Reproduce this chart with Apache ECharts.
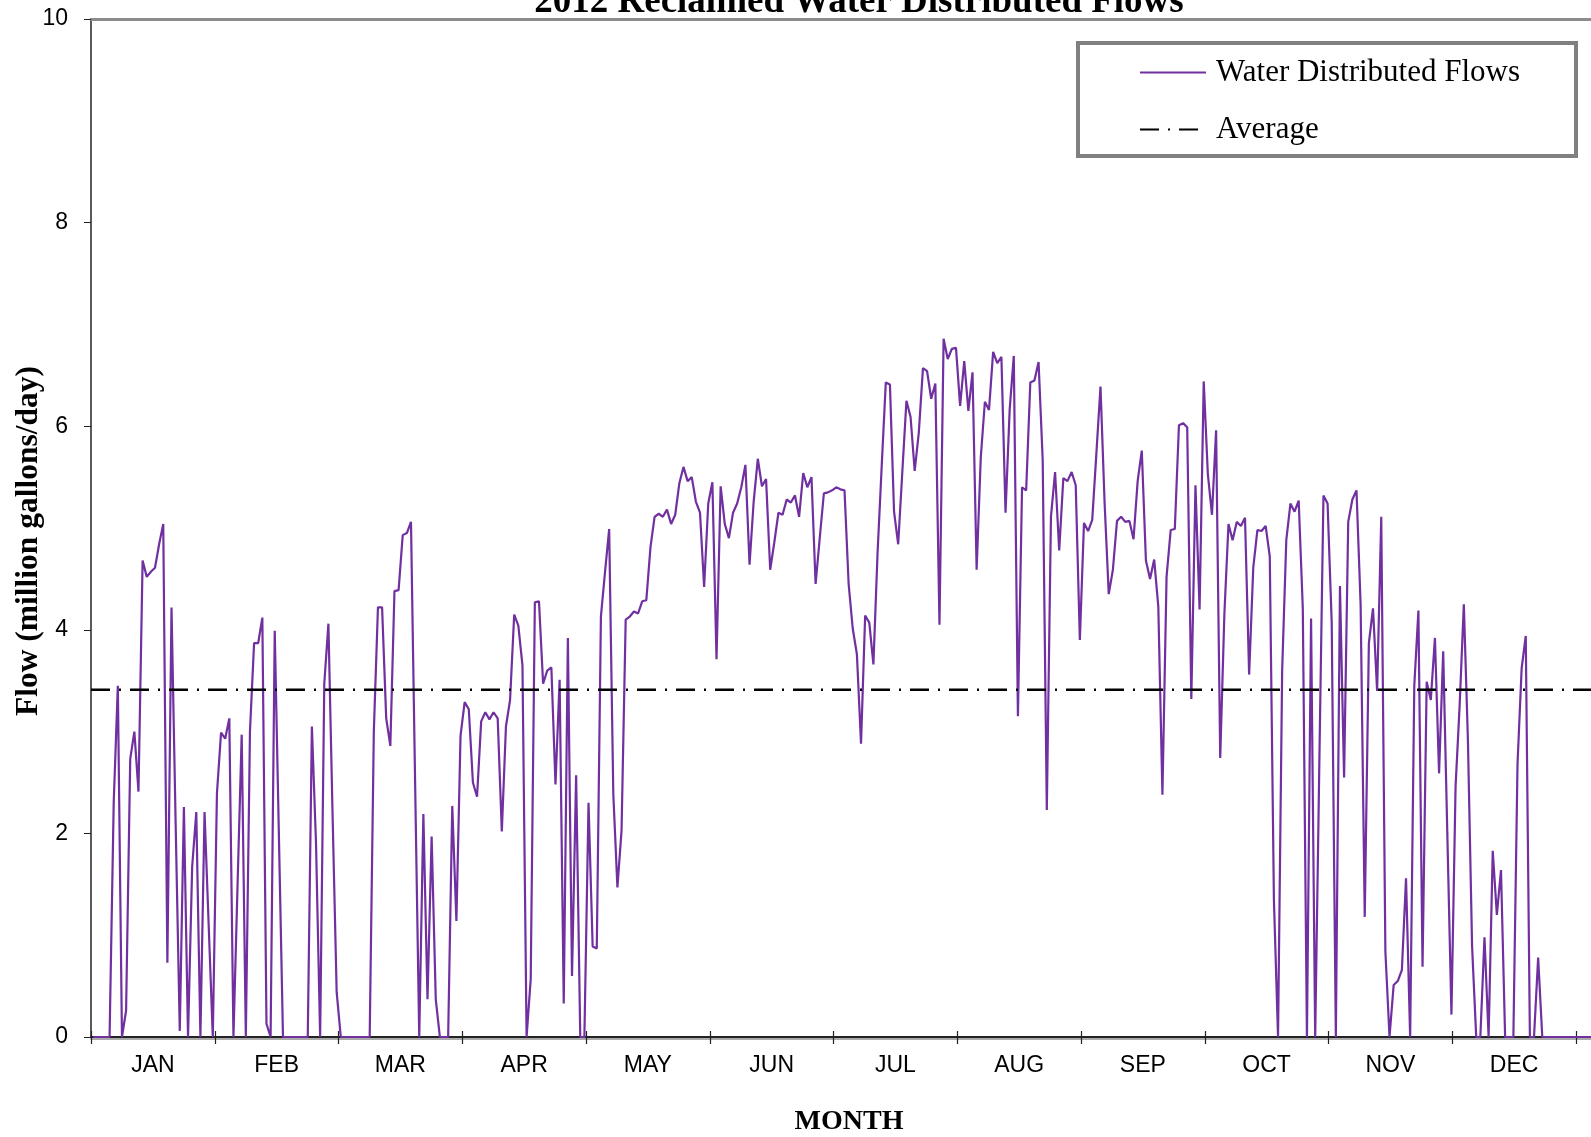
<!DOCTYPE html>
<html>
<head>
<meta charset="utf-8">
<title>2012 Reclaimed Water Distributed Flows</title>
<script src="https://cdn.jsdelivr.net/npm/echarts@6/dist/echarts.min.js"></script>
<style>
  html, body { margin: 0; padding: 0; background: #fff; }
  #chart { width: 1591px; height: 1137px; }
</style>
</head>
<body>
<div id="chart"></div>
<script>
// daily flows for 2012 (million gallons/day), day 0 = Jan 1
const flows = [
  0, 0, 0, 0, 0, 2.3, 3.45, 0, 0.26, 2.73,
  3.0, 2.41, 4.68, 4.52, 4.57, 4.61, 4.84, 5.04, 0.73, 4.22,
  2.1, 0.06, 2.26, 0, 1.67, 2.21, 0, 2.21, 1.1, 0,
  2.39, 2.99, 2.93, 3.13, 0, 1.5, 2.97, 0, 3.0, 3.87,
  3.87, 4.12, 0.13, 0, 3.99, 2.0, 0, 0, 0, 0,
  0, 0, 0, 3.05, 1.9, 0, 3.47, 4.06, 2.2, 0.44,
  0, 0, 0, 0, 0, 0, 0, 0, 3.0, 4.22,
  4.22, 3.13, 2.86, 4.38, 4.39, 4.93, 4.95, 5.06, 2.5, 0,
  2.19, 0.37, 1.97, 0.37, 0, 0, 0, 2.27, 1.14, 2.96,
  3.29, 3.22, 2.50, 2.36, 3.10, 3.19, 3.12, 3.19, 3.13, 2.02,
  3.05, 3.31, 4.15, 4.04, 3.65, 0, 0.57, 4.27, 4.28, 3.47,
  3.60, 3.63, 2.48, 3.51, 0.33, 3.92, 0.60, 2.57, 0, 0,
  2.30, 0.89, 0.87, 4.13, 4.57, 4.99, 2.39, 1.47, 2.03, 4.10,
  4.13, 4.18, 4.16, 4.28, 4.29, 4.81, 5.11, 5.14, 5.11, 5.18,
  5.04, 5.13, 5.44, 5.60, 5.46, 5.50, 5.26, 5.15, 4.42, 5.24,
  5.45, 3.71, 5.41, 5.04, 4.90, 5.15, 5.24, 5.40, 5.62, 4.64,
  5.26, 5.68, 5.41, 5.48, 4.59, 4.86, 5.15, 5.13, 5.28, 5.25,
  5.32, 5.11, 5.54, 5.40, 5.50, 4.45, 4.90, 5.34, 5.35, 5.37,
  5.40, 5.38, 5.37, 4.45, 4.01, 3.76, 2.88, 4.14, 4.07, 3.66,
  4.75, 5.6, 6.43, 6.41, 5.16, 4.84, 5.55, 6.25, 6.09, 5.56,
  5.94, 6.57, 6.54, 6.27, 6.42, 4.05, 6.86, 6.66, 6.76, 6.77,
  6.20, 6.64, 6.15, 6.53, 4.59, 5.69, 6.24, 6.16, 6.73, 6.62,
  6.68, 5.15, 6.16, 6.69, 3.15, 5.40, 5.37, 6.43, 6.45, 6.63,
  5.67, 2.23, 5.11, 5.55, 4.78, 5.49, 5.46, 5.55, 5.42, 3.90,
  5.05, 4.97, 5.08, 5.73, 6.39, 5.24, 4.35, 4.59, 5.07, 5.11,
  5.06, 5.07, 4.89, 5.46, 5.76, 4.68, 4.50, 4.69, 4.23, 2.38,
  4.52, 4.98, 4.99, 6.01, 6.03, 5.99, 3.32, 5.42, 4.20, 6.44,
  5.53, 5.13, 5.96, 2.74, 4.15, 5.04, 4.88, 5.06, 5.02, 5.10,
  3.56, 4.61, 4.98, 4.97, 5.02, 4.72, 1.35, 0, 3.60, 4.88,
  5.24, 5.16, 5.27, 4.21, 0, 4.11, 0, 2.68, 5.32, 5.24,
  4.07, 0, 4.43, 2.55, 5.06, 5.28, 5.37, 4.25, 1.18, 3.87,
  4.21, 3.40, 5.11, 0.84, 0, 0.51, 0.55, 0.66, 1.56, 0,
  3.45, 4.19, 0.69, 3.49, 3.31, 3.92, 2.59, 3.79, 2.0, 0.22,
  2.46, 3.27, 4.25, 2.9, 0.89, 0, 0, 0.98, 0, 1.83,
  1.20, 1.64, 0, 0, 0, 2.68, 3.62, 3.94, 0, 0,
  0.78, 0, 0, 0, 0, 0, 0, 0, 0, 0,
  0, 0, 0, 0, 0, 0
];
const days = flows.map((v, i) => i);
const averageFlow = 3.41;
const months = ['JAN', 'FEB', 'MAR', 'APR', 'MAY', 'JUN', 'JUL', 'AUG', 'SEP', 'OCT', 'NOV', 'DEC'];
const yTicks = { min: 0, max: 10, interval: 2 };
// visible day range (the plot runs a little past the right edge of the picture)
const dayRange = { min: -0.5, max: 362.8 };

const serif = '"Liberation Serif", "Times New Roman", serif';
const sans = '"Liberation Sans", Arial, sans-serif';

const chart = echarts.init(document.getElementById('chart'));

const option = {
    backgroundColor: '#ffffff',
    animation: false,
    graphic: [{
        type: 'text',
        x: 859,
        y: 2,
        style: {
            text: '2012 Reclaimed Water Distributed Flows',
            font: 'bold 37px ' + serif,
            fill: '#000',
            align: 'center',
            verticalAlign: 'middle'
        }
    }],
    legend: {
        orient: 'vertical',
        left: 1078,
        top: 43,
        padding: [14, 56, 11, 61],
        itemWidth: 66,
        itemHeight: 14,
        itemGap: 26,
        borderColor: '#808080',
        borderWidth: 4,
        itemStyle: { opacity: 0 },
        textStyle: { fontFamily: serif, fontSize: 31, color: '#000', padding: [0, 0, 0, 5] },
        data: ['Water Distributed Flows', 'Average']
    },
    grid: [
        { left: 91, top: 19, right: 0, height: 1018, outerBoundsMode: 'none', containLabel: false },
        { left: 91, top: 19, width: 1485, height: 1018, outerBoundsMode: 'none', containLabel: false }
    ],
    xAxis: [
        {
            gridIndex: 0,
            type: 'value',
            position: 'bottom',
            min: dayRange.min,
            max: dayRange.max,
            axisLine: { lineStyle: { color: '#222', width: 2, shadowColor: '#aaa', shadowOffsetY: 2 } },
            axisTick: { show: false },
            axisLabel: { show: false },
            splitLine: { show: false },
            name: 'MONTH',
            nameLocation: 'middle',
            nameGap: 71,
            nameMoveOverlap: false,
            nameTextStyle: { fontFamily: serif, fontWeight: 'bold', fontSize: 28, color: '#000', padding: [0, 0, 0, 16] }
        },
        {
            gridIndex: 0,
            type: 'value',
            position: 'top',
            min: dayRange.min,
            max: dayRange.max,
            axisLine: { lineStyle: { color: '#8c8c8c', width: 3 } },
            axisTick: { show: false },
            axisLabel: { show: false },
            splitLine: { show: false }
        },
        {
            gridIndex: 1,
            type: 'category',
            position: 'bottom',
            data: months,
            boundaryGap: true,
            axisLine: { show: false },
            axisTick: { show: true, length: 7, lineStyle: { color: '#222', width: 1.2 } },
            axisLabel: { fontFamily: sans, fontSize: 23, color: '#000', margin: 17 }
        },
        {
            gridIndex: 1,
            type: 'category',
            position: 'bottom',
            data: months,
            boundaryGap: true,
            axisLine: { show: false },
            axisTick: { show: true, inside: true, length: 6, lineStyle: { color: '#222', width: 1.2 } },
            axisLabel: { show: false }
        }
    ],
    yAxis: [
        {
            gridIndex: 0,
            type: 'value',
            min: yTicks.min,
            max: yTicks.max,
            interval: yTicks.interval,
            axisLine: { show: true, onZero: false, lineStyle: { color: '#222', width: 1.5 } },
            axisTick: { show: true, length: 7, lineStyle: { color: '#222' } },
            axisLabel: { fontFamily: sans, fontSize: 23, color: '#000', margin: 23 },
            splitLine: { show: false },
            name: 'Flow (million gallons/day)',
            nameLocation: 'middle',
            nameGap: 46,
            nameMoveOverlap: false,
            nameTextStyle: { fontFamily: serif, fontWeight: 'bold', fontSize: 31.5, color: '#000', padding: [0, 26, 0, 0] }
        },
        { gridIndex: 1, type: 'value', show: false }
    ],
    series: [
        {
            name: 'Water Distributed Flows',
            type: 'line',
            xAxisIndex: 0,
            yAxisIndex: 0,
            symbol: 'none',
            color: '#7030A0',
            lineStyle: { color: '#7030A0', width: 2.2 },
            data: days.map(d => [d, flows[d]])
        },
        {
            name: 'Average',
            type: 'line',
            xAxisIndex: 0,
            yAxisIndex: 0,
            symbol: 'none',
            color: '#000',
            lineStyle: { color: '#000', width: 2.5, type: [19, 9, 2, 9] },
            data: [[dayRange.min, averageFlow], [days[days.length - 1], averageFlow]]
        }
    ]
};

chart.setOption(option);
</script>
</body>
</html>
